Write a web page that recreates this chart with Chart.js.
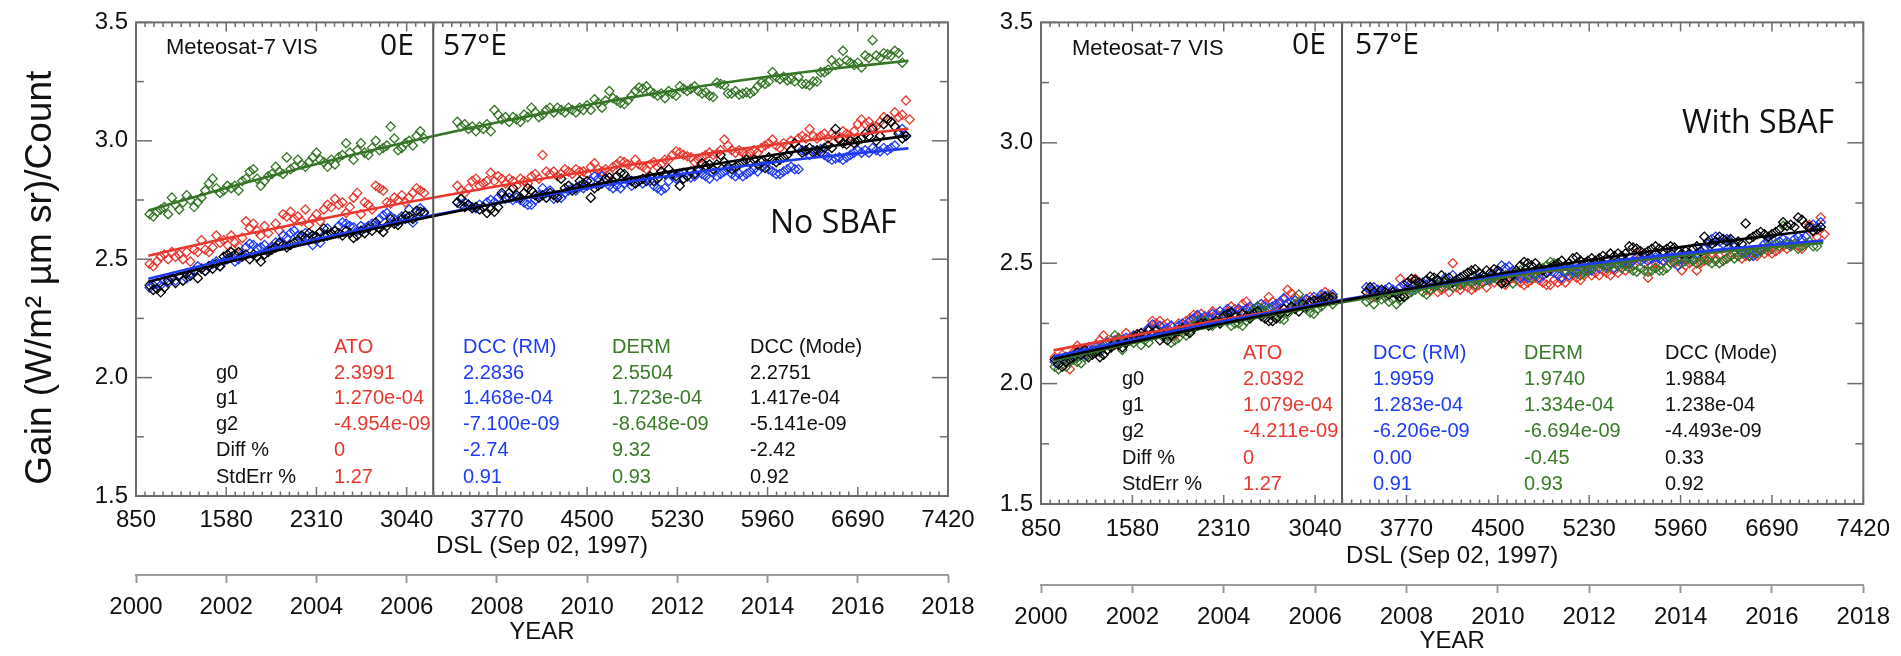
<!DOCTYPE html>
<html><head><meta charset="utf-8">
<script src="https://cdn.jsdelivr.net/npm/chart.js@4.4.1/dist/chart.umd.min.js"></script>
<style>
html,body{margin:0;padding:0;background:#fff;width:1901px;height:656px;overflow:hidden;}
canvas{position:absolute;top:0;}
#c1{left:0;width:990px;height:656px;}
#c2{left:990px;width:911px;height:656px;}
</style></head><body>
<canvas id="c1" width="990" height="656"></canvas>
<canvas id="c2" width="911" height="656"></canvas>
<script>
// ---------------- DATA ----------------
// Days since launch (DSL, Sep 02 1997) of the monthly samples
const DSL = [
960,990,1020,1050,1080,1110,1140,1170,1200,1230,
1260,1290,1320,1350,1380,1410,1440,1470,1500,1530,
1560,1590,1620,1650,1680,1710,1740,1770,1800,1830,
1860,1890,1920,1950,1980,2010,2040,2070,2100,2130,
2160,2190,2220,2250,2280,2310,2340,2370,2400,2430,
2460,2490,2520,2550,2580,2610,2640,2670,2700,2730,
2760,2790,2820,2850,2880,2910,2940,2970,3000,3030,
3060,3090,3120,3150,3180,
3450,3480,3510,3540,3570,3600,3630,3660,3690,3720,
3750,3780,3810,3840,3870,3900,3930,3960,3990,4020,
4050,4080,4110,4140,4170,4200,4230,4260,4290,4320,
4350,4380,4410,4440,4470,4500,4530,4560,4590,4620,
4650,4680,4710,4740,4770,4800,4830,4860,4890,4920,
4950,4980,5010,5040,5070,5100,5130,5160,5190,5220,
5250,5280,5310,5340,5370,5400,5430,5460,5490,5520,
5550,5580,5610,5640,5670,5700,5730,5760,5790,5820,
5850,5880,5910,5940,5970,6000,6030,6060,6090,6120,
6150,6180,6210,6240,6270,6300,6330,6360,6390,6420,
6450,6480,6510,6540,6570,6600,6630,6660,6690,6720,
6750,6780,6810,6840,6870,6900,6930,6960,6990,7020,
7050,7080,7110];

// ---- Left panel (No SBAF) ----
const L_ATO = [
2.48,2.47,2.49,2.51,2.52,2.50,2.53,2.51,2.52,2.50,
2.53,2.49,2.54,2.53,2.58,2.54,2.53,2.55,2.60,2.57,
2.58,2.56,2.60,2.57,2.555,2.59,2.66,2.63,2.65,2.62,
2.60,2.64,2.61,2.555,2.65,2.62,2.69,2.68,2.70,2.67,
2.68,2.66,2.71,2.645,2.67,2.69,2.66,2.71,2.73,2.72,
2.755,2.73,2.74,2.695,2.72,2.76,2.78,2.69,2.74,2.73,
2.71,2.81,2.80,2.79,2.74,2.735,2.76,2.75,2.77,2.74,
2.76,2.78,2.80,2.79,2.78,
2.81,2.79,2.78,2.80,2.83,2.84,2.81,2.82,2.83,2.865,
2.83,2.85,2.84,2.82,2.84,2.83,2.81,2.84,2.83,2.82,
2.85,2.86,2.84,2.94,2.87,2.86,2.87,2.85,2.86,2.88,
2.87,2.86,2.88,2.87,2.87,2.86,2.89,2.905,2.88,2.87,
2.88,2.86,2.89,2.90,2.915,2.91,2.90,2.895,2.92,2.90,
2.89,2.88,2.90,2.91,2.89,2.90,2.92,2.92,2.94,2.955,
2.95,2.94,2.935,2.93,2.91,2.92,2.93,2.94,2.95,2.94,
2.945,2.96,3.005,2.98,2.96,2.95,2.96,2.95,2.94,2.95,
2.96,2.95,2.97,2.98,2.99,3.005,2.98,2.97,2.99,2.98,
3.00,2.99,3.01,3.02,3.01,3.05,3.02,3.01,3.02,3.03,
3.01,3.03,3.02,3.01,3.04,3.03,3.02,3.04,3.07,3.09,
3.07,3.08,3.06,3.06,3.08,3.10,3.09,3.08,3.12,3.10,
3.11,3.17,3.09];
const L_RM = [
2.38,2.39,2.40,2.39,2.41,2.40,2.42,2.41,2.43,2.41,
2.42,2.44,2.45,2.47,2.46,2.45,2.47,2.48,2.49,2.47,
2.49,2.50,2.51,2.49,2.50,2.52,2.55,2.565,2.56,2.545,
2.55,2.56,2.54,2.55,2.57,2.565,2.60,2.59,2.61,2.62,
2.60,2.59,2.61,2.59,2.56,2.58,2.57,2.60,2.63,2.61,
2.62,2.64,2.655,2.65,2.64,2.635,2.62,2.64,2.63,2.64,
2.65,2.64,2.67,2.685,2.695,2.68,2.67,2.66,2.68,2.67,
2.71,2.655,2.70,2.715,2.70,
2.74,2.73,2.74,2.73,2.72,2.715,2.73,2.72,2.74,2.75,
2.74,2.76,2.77,2.755,2.76,2.75,2.76,2.75,2.74,2.73,
2.73,2.75,2.77,2.80,2.78,2.79,2.755,2.77,2.76,2.78,
2.79,2.80,2.79,2.81,2.80,2.81,2.83,2.85,2.84,2.85,
2.84,2.81,2.80,2.81,2.80,2.82,2.83,2.81,2.82,2.83,
2.82,2.84,2.83,2.81,2.80,2.79,2.80,2.83,2.85,2.84,
2.86,2.865,2.85,2.845,2.85,2.87,2.86,2.85,2.84,2.865,
2.85,2.86,2.87,2.88,2.86,2.85,2.86,2.85,2.86,2.87,
2.88,2.87,2.89,2.90,2.88,2.87,2.86,2.86,2.87,2.88,
2.89,2.88,2.88,2.96,2.955,2.94,2.96,2.95,2.965,2.94,
2.93,2.92,2.925,2.93,2.92,2.93,2.94,2.95,2.96,2.95,
2.96,2.95,2.97,2.96,2.955,2.97,2.96,2.97,2.98,3.04,
3.05,3.02,null];
const L_DERM = [
2.69,2.68,2.70,2.71,2.72,2.69,2.76,2.73,2.71,2.74,
2.77,2.75,2.72,2.74,2.76,2.79,2.82,2.84,2.80,2.78,
2.79,2.81,2.80,2.81,2.79,2.83,2.84,2.87,2.88,2.84,
2.81,2.83,2.85,2.86,2.89,2.87,2.86,2.93,2.88,2.89,
2.92,2.90,2.89,2.91,2.93,2.95,2.92,2.91,2.89,2.92,
2.90,2.93,2.94,2.99,2.95,2.92,2.96,2.99,2.95,2.94,
2.97,3.00,2.96,2.97,2.98,3.06,3.01,2.96,2.97,2.99,
3.00,2.98,3.02,3.04,3.01,
3.08,3.06,3.07,3.05,3.06,3.04,3.06,3.05,3.07,3.04,
3.13,3.11,3.09,3.10,3.08,3.10,3.09,3.08,3.11,3.10,
3.14,3.12,3.10,3.11,3.13,3.14,3.12,3.14,3.13,3.12,
3.14,3.13,3.12,3.14,3.13,3.15,3.13,3.175,3.16,3.14,
3.17,3.21,3.18,3.17,3.16,3.155,3.17,3.19,3.21,3.225,
3.22,3.23,3.21,3.20,3.19,3.20,3.18,3.21,3.20,3.19,
3.23,3.22,3.21,3.22,3.23,3.21,3.20,3.205,3.19,3.185,
3.245,3.24,3.235,3.20,3.20,3.21,3.195,3.20,3.205,3.20,
3.21,3.23,3.245,3.24,3.25,3.29,3.27,3.26,3.27,3.255,
3.26,3.25,3.27,3.24,3.24,3.235,3.25,3.25,3.29,3.29,
3.30,3.34,3.32,3.33,3.38,3.34,3.33,3.32,3.33,3.31,
3.36,3.35,3.425,3.36,3.35,3.37,3.365,3.36,3.38,3.37,
3.33,null,null];
const L_MODE = [
2.39,2.37,2.375,2.36,2.38,2.41,2.42,2.40,2.43,2.41,
2.44,2.43,2.45,2.42,2.46,2.45,2.47,2.46,2.48,2.47,
2.51,2.52,2.53,2.52,2.53,2.51,2.52,2.50,2.52,2.51,
2.49,2.52,2.53,2.54,2.55,2.57,2.56,2.55,2.56,2.57,
2.58,2.60,2.59,2.61,2.60,2.595,2.615,2.63,2.60,2.61,
2.62,2.61,2.60,2.62,2.61,2.59,2.60,2.62,2.61,2.63,
2.62,2.655,2.63,2.615,2.64,2.67,2.65,2.645,2.67,2.685,
2.68,2.67,2.705,2.70,2.695,
2.74,2.755,2.72,2.73,2.715,2.72,2.71,2.72,2.695,2.71,
2.70,2.72,2.78,2.76,2.78,2.80,2.77,2.76,2.78,2.80,
2.79,2.77,2.76,2.77,2.76,2.78,2.77,2.76,2.84,2.80,
2.81,2.79,2.80,2.83,2.82,2.83,2.76,2.80,2.81,2.82,
2.84,2.845,2.83,2.85,2.865,2.86,2.84,2.83,2.82,2.83,
2.84,2.83,2.85,2.83,2.84,2.87,2.86,2.88,2.86,2.85,
2.81,2.84,2.85,2.87,2.86,2.88,2.905,2.895,2.90,2.88,
2.90,2.94,2.91,2.89,2.88,2.89,2.90,2.91,2.92,2.91,
2.92,2.90,2.91,2.885,2.93,2.92,2.91,2.92,2.93,2.94,
2.96,2.99,2.97,2.95,2.96,2.97,2.95,2.96,2.95,2.97,
2.98,2.97,3.05,3.005,2.99,2.985,3.00,2.99,3.00,3.01,
3.03,3.02,3.05,3.00,3.02,3.07,3.09,3.08,3.06,3.03,
3.01,3.02,null];

// ---- Right panel (With SBAF) ----
const R_ATO = [
2.11,2.10,2.12,2.11,2.06,2.13,2.157,2.14,2.13,2.15,
2.14,2.16,2.18,2.20,2.17,2.18,2.16,2.19,2.18,2.21,
2.19,2.20,2.205,2.19,2.21,2.23,2.26,2.25,2.26,2.24,
2.25,2.24,2.20,2.25,2.24,2.26,2.27,2.285,2.28,2.29,
2.27,2.28,2.30,2.29,2.28,2.29,2.30,2.32,2.31,2.30,
2.33,2.34,2.31,2.30,2.32,2.31,2.33,2.36,2.34,2.32,
2.33,2.35,2.39,2.375,2.36,2.33,2.34,2.35,2.36,2.34,
2.35,2.36,2.38,2.37,2.35,
2.38,2.37,2.36,2.37,2.38,2.36,2.37,2.39,2.38,2.435,
2.41,2.39,2.42,2.435,2.42,2.41,2.39,2.385,2.40,2.38,
2.39,2.40,2.38,2.50,2.40,2.39,2.41,2.40,2.39,2.40,
2.41,2.42,2.40,2.43,2.42,2.43,2.42,2.41,2.43,2.44,
2.43,2.42,2.41,2.42,2.43,2.44,2.43,2.42,2.41,2.41,
2.43,2.42,2.43,2.42,2.44,2.45,2.44,2.43,2.45,2.465,
2.45,2.46,2.45,2.47,2.46,2.45,2.47,2.46,2.48,2.47,
2.50,2.49,2.545,2.525,2.50,2.44,2.49,2.50,2.49,2.51,
2.52,2.52,2.50,2.51,2.47,2.49,2.50,2.51,2.47,2.50,
2.51,2.52,2.53,2.52,2.53,2.51,2.52,2.53,2.54,2.53,
2.52,2.53,2.53,2.54,2.53,2.55,2.54,2.55,2.54,2.55,
2.56,2.57,2.56,2.57,2.58,2.57,2.56,2.58,2.66,2.63,
2.61,2.69,2.62];
const R_RM = [
2.09,2.08,2.10,2.11,2.10,2.12,2.11,2.13,2.12,2.14,
2.13,2.15,2.14,2.16,2.17,2.16,2.18,2.17,2.18,2.19,
2.18,2.20,2.19,2.21,2.20,2.23,2.245,2.23,2.24,2.22,
2.23,2.24,2.22,2.24,2.25,2.24,2.26,2.27,2.285,2.27,
2.28,2.27,2.29,2.28,2.30,2.29,2.31,2.30,2.29,2.31,
2.30,2.31,2.32,2.31,2.32,2.33,2.32,2.31,2.32,2.33,
2.34,2.355,2.335,2.34,2.345,2.33,2.34,2.35,2.34,2.36,
2.35,2.37,2.365,2.36,2.37,
2.40,2.39,2.40,2.39,2.38,2.39,2.40,2.39,2.38,2.40,
2.41,2.40,2.39,2.41,2.40,2.42,2.41,2.42,2.41,2.43,
2.42,2.44,2.41,2.45,2.43,2.44,2.42,2.43,2.44,2.43,
2.44,2.45,2.43,2.44,2.45,2.46,2.49,2.48,2.486,2.47,
2.45,2.44,2.45,2.44,2.46,2.45,2.44,2.45,2.46,2.47,
2.46,2.45,2.44,2.46,2.45,2.47,2.46,2.48,2.47,2.48,
2.47,2.49,2.48,2.50,2.49,2.50,2.48,2.49,2.50,2.51,
2.50,2.51,2.525,2.51,2.52,2.51,2.52,2.525,2.52,2.51,
2.52,2.53,2.51,2.49,2.52,2.51,2.53,2.52,2.54,2.55,
2.56,2.58,2.60,2.61,2.59,2.58,2.60,2.59,2.57,2.56,
2.55,2.54,2.53,2.53,2.55,2.56,2.58,2.59,2.60,2.58,
2.59,2.60,2.59,2.58,2.60,2.61,2.60,2.61,2.65,2.66,
2.65,2.67,null];
const R_DERM = [
2.07,2.06,2.08,2.07,2.09,2.10,2.09,2.085,2.11,2.12,
2.13,2.14,2.13,2.15,2.14,2.16,2.20,2.185,2.14,2.17,
2.18,2.17,2.19,2.16,2.18,2.17,2.20,2.22,2.21,2.19,
2.20,2.17,2.18,2.19,2.21,2.20,2.22,2.24,2.26,2.25,
2.26,2.25,2.24,2.255,2.25,2.27,2.26,2.24,2.25,2.25,
2.24,2.26,2.28,2.30,2.32,2.31,2.30,2.31,2.29,2.28,
2.27,2.265,2.29,2.31,2.33,2.37,2.32,2.31,2.295,2.29,
2.31,2.32,2.34,2.36,2.33,
2.34,2.35,2.33,2.36,2.35,2.36,2.34,2.35,2.33,2.345,
2.36,2.37,2.38,2.39,2.40,2.38,2.37,2.39,2.40,2.41,
2.40,2.42,2.41,2.40,2.42,2.41,2.42,2.43,2.42,2.41,
2.43,2.42,2.44,2.43,2.44,2.43,2.44,2.45,2.44,2.416,
2.46,2.47,2.46,2.45,2.44,2.46,2.47,2.48,2.49,2.505,
2.50,2.49,2.48,2.47,2.48,2.46,2.47,2.45,2.46,2.47,
2.48,2.49,2.50,2.49,2.48,2.49,2.50,2.49,2.48,2.49,
2.48,2.47,2.465,2.48,2.47,2.465,2.47,2.48,2.47,2.47,
2.48,2.50,2.51,2.52,2.50,2.51,2.52,2.51,2.50,2.51,
2.52,2.51,2.50,2.51,2.50,2.51,2.52,2.53,2.52,2.53,
2.54,2.55,2.53,2.55,2.54,2.55,2.56,2.57,2.56,2.58,
2.57,2.655,2.58,2.57,2.58,2.56,2.57,2.58,2.59,2.57,
2.57,null,null];
const R_MODE = [
2.10,2.08,2.07,2.09,2.10,2.11,2.13,2.12,2.14,2.11,
2.12,2.13,2.11,2.12,2.14,2.15,2.17,2.16,2.15,2.17,
2.18,2.19,2.205,2.21,2.20,2.22,2.21,2.22,2.18,2.20,
2.18,2.20,2.21,2.22,2.23,2.22,2.21,2.23,2.24,2.25,
2.25,2.24,2.25,2.26,2.25,2.28,2.29,2.295,2.28,2.27,
2.29,2.28,2.27,2.29,2.30,2.28,2.27,2.26,2.26,2.27,
2.29,2.31,2.30,2.32,2.31,2.30,2.33,2.32,2.34,2.345,
2.34,2.35,2.36,2.355,2.36,
2.38,2.40,2.38,2.37,2.39,2.38,2.37,2.38,2.37,2.36,
2.36,2.42,2.435,2.43,2.42,2.41,2.43,2.445,2.44,2.43,
2.45,2.43,2.44,2.42,2.43,2.44,2.45,2.46,2.47,2.475,
2.46,2.45,2.47,2.46,2.475,2.47,2.416,2.42,2.44,2.45,
2.47,2.49,2.505,2.50,2.49,2.50,2.48,2.47,2.46,2.48,
2.49,2.50,2.51,2.49,2.50,2.52,2.525,2.51,2.50,2.51,
2.52,2.51,2.52,2.53,2.52,2.54,2.53,2.54,2.53,2.54,
2.57,2.565,2.56,2.55,2.54,2.55,2.56,2.57,2.56,2.55,
2.56,2.57,2.565,2.55,2.54,2.55,2.54,2.56,2.57,2.55,
2.61,2.59,2.58,2.59,2.61,2.60,2.59,2.60,2.58,2.59,
2.58,2.665,2.60,2.61,2.62,2.63,2.62,2.61,2.62,2.63,
2.64,2.67,2.655,2.66,2.65,2.69,2.68,2.66,2.65,2.635,
2.64,2.65,null];

// Quadratic fit curves, read at these DSL knots
const FIT_DSL = [950,1500,2000,2500,3000,3500,4000,4500,5000,5500,6000,6500,7100];
const L_ATO_FIT  = [2.515,2.579,2.633,2.686,2.736,2.783,2.828,2.870,2.910,2.948,2.983,3.015,3.051];
const L_RM_FIT   = [2.417,2.488,2.549,2.606,2.660,2.710,2.757,2.800,2.840,2.876,2.909,2.938,2.968];
const L_DERM_FIT = [2.706,2.789,2.860,2.927,2.990,3.048,3.101,3.151,3.196,3.237,3.273,3.305,3.338];
const L_MODE_FIT = [2.405,2.476,2.538,2.597,2.654,2.708,2.760,2.809,2.855,2.899,2.940,2.979,3.022];
const R_ATO_FIT  = [2.138,2.192,2.238,2.283,2.325,2.365,2.403,2.440,2.473,2.505,2.535,2.563,2.593];
const R_RM_FIT   = [2.112,2.174,2.228,2.278,2.325,2.369,2.410,2.448,2.482,2.514,2.542,2.568,2.594];
const R_DERM_FIT = [2.095,2.159,2.214,2.266,2.314,2.359,2.401,2.439,2.474,2.505,2.533,2.558,2.584];
const R_MODE_FIT = [2.102,2.164,2.218,2.270,2.319,2.367,2.412,2.455,2.495,2.533,2.570,2.603,2.641];

// Axis ticks
const DSL_TICKS  = [850,1580,2310,3040,3770,4500,5230,5960,6690,7420];
const YEAR_TICKS = [2000,2002,2004,2006,2008,2010,2012,2014,2016,2018];
const Y_TICKS    = [1.5,2.0,2.5,3.0,3.5];
const SWITCH_DSL = 3255;   // 0E -> 57°E relocation

// Tables
const ROW_LABELS = ['g0','g1','g2','Diff %','StdErr %'];
const HEADERS    = ['ATO','DCC (RM)','DERM','DCC (Mode)'];
const L_TAB_ATO  = ['2.3991','1.270e-04','-4.954e-09','0','1.27'];
const L_TAB_RM   = ['2.2836','1.468e-04','-7.100e-09','-2.74','0.91'];
const L_TAB_DERM = ['2.5504','1.723e-04','-8.648e-09','9.32','0.93'];
const L_TAB_MODE = ['2.2751','1.417e-04','-5.141e-09','-2.42','0.92'];
const R_TAB_ATO  = ['2.0392','1.079e-04','-4.211e-09','0','1.27'];
const R_TAB_RM   = ['1.9959','1.283e-04','-6.206e-09','0.00','0.91'];
const R_TAB_DERM = ['1.9740','1.334e-04','-6.694e-09','-0.45','0.93'];
const R_TAB_MODE = ['1.9884','1.238e-04','-4.493e-09','0.33','0.92'];

// ---------------- STYLE ----------------
const COL = {red:'#e8382e', blue:'#1f3cf2', green:'#367427', black:'#000000'};
const TXT = {red:'#e8382e', blue:'#1d3cf5', green:'#3a7a2a', black:'#111111'};
const FONT = "'Liberation Sans', Arial, Helvetica, sans-serif";
const CAL = "'Open Sans', sans-serif";
const FRAME = '#6e6e6e';
const YEARCOL = '#9b9b9b';

function pts(arr){ return DSL.map((x,i)=>({x:x,y:arr[i]})).filter(p=>p.y!==null && p.y!==undefined); }
function fit(arr){ return FIT_DSL.map((x,i)=>({x:x,y:arr[i]})); }

function makePanel(id, P){
  const ds = [];
  [[P.fits[3],COL.black,0],[P.fits[1],COL.blue,1],[P.fits[2],COL.green,2],[P.fits[0],COL.red,3]].forEach(([a,c,o])=>{
    ds.push({data:fit(a), showLine:true, borderColor:c, borderWidth:2.6, pointRadius:0, pointHoverRadius:0, fill:false, tension:0.3, order:o});
  });
  [[P.pts[3],COL.black,4],[P.pts[2],COL.green,5],[P.pts[1],COL.blue,6],[P.pts[0],COL.red,7]].forEach(([a,c,o])=>{
    ds.push({data:pts(a), showLine:false, pointStyle:'rectRot', pointRadius:4.6, pointHoverRadius:4.6,
      pointBorderColor:c, borderColor:c, pointBackgroundColor:'rgba(0,0,0,0)', backgroundColor:'rgba(0,0,0,0)',
      pointBorderWidth:1.3, order:o});
  });

  const deco = {
    id:'deco'+id,
    afterDraw(chart){
      const {ctx, chartArea:a, scales} = chart;
      const xs = scales.x, ys = scales.y;
      ctx.save();
      // relocation line
      const sx = xs.getPixelForValue(SWITCH_DSL);
      ctx.strokeStyle = '#555'; ctx.lineWidth = 2;
      ctx.beginPath(); ctx.moveTo(sx, a.top); ctx.lineTo(sx, a.bottom); ctx.stroke();
      // frame
      ctx.strokeStyle = FRAME; ctx.lineWidth = 2;
      ctx.strokeRect(a.left, a.top, a.right-a.left, a.bottom-a.top);
      // inward ticks
      ctx.lineWidth = 1.5;
      const seg=(x1,y1,x2,y2)=>{ctx.beginPath();ctx.moveTo(x1,y1);ctx.lineTo(x2,y2);ctx.stroke();};
      for(let k=0;k<=90;k++){
        const px = xs.getPixelForValue(850 + k*73);
        const L = (k%10===0) ? 9 : 4.5;
        seg(px,a.bottom,px,a.bottom-L); seg(px,a.top,px,a.top+L);
      }
      for(let k=0;k<=8;k++){
        const py = ys.getPixelForValue(1.5 + k*0.25);
        const L = (k%2===0) ? 16 : 8;
        seg(a.left,py,a.left+L,py); seg(a.right,py,a.right-L,py);
      }
      // annotations
      ctx.textAlign='left'; ctx.textBaseline='alphabetic';
      ctx.fillStyle='#111';
      ctx.font = '22px '+FONT;
      ctx.fillText('Meteosat-7 VIS', P.met[0], P.met[1]);
      ctx.font = '30px '+CAL;
      ctx.fillText('0E', P.oe[0], P.oe[1]);
      ctx.fillText('57°E', P.fe[0], P.fe[1]);
      ctx.font = '32px '+CAL;
      ctx.fillText(P.label, P.lab[0], P.lab[1]);
      // table
      ctx.font = '20px '+FONT;
      const cols = [TXT.red, TXT.blue, TXT.green, TXT.black];
      ROW_LABELS.forEach((t,r)=>{ ctx.fillStyle='#111'; ctx.fillText(t, P.tabLabelX, P.rowY[r]); });
      HEADERS.forEach((h,c)=>{ ctx.fillStyle=cols[c]; ctx.fillText(h, P.colX[c], P.headY); });
      P.tab.forEach((col,c)=>{ col.forEach((t,r)=>{ ctx.fillStyle=cols[c]; ctx.fillText(t, P.colX[c], P.rowY[r]); }); });
      ctx.restore();
    }
  };

  const tickFont = {family:FONT, size:24};
  new Chart(document.getElementById(id), {
    type:'scatter',
    data:{datasets:ds},
    plugins:[deco],
    options:{
      responsive:false, animation:false, devicePixelRatio:1,
      layout:{padding:{top:P.padTop, right:P.padRight, bottom:0, left:0}},
      plugins:{legend:{display:false}, tooltip:{enabled:false}},
      events:[],
      scales:{
        x:{type:'linear', position:'bottom', min:850, max:7420, weight:0,
          afterBuildTicks:s=>{ s.ticks = DSL_TICKS.map(v=>({value:v})); },
          afterFit:s=>{ s.height = P.xH; },
          grid:{display:false, drawTicks:false}, border:{display:false},
          ticks:{autoSkip:false, maxRotation:0, minRotation:0, padding:P.xPad, color:'#111', font:tickFont, callback:v=>String(v)},
          title:{display:true, text:'DSL (Sep 02, 1997)', color:'#111', font:tickFont, padding:{top:0,bottom:P.xTitlePad}}},
        x2:{type:'linear', position:'bottom', min:2000, max:2018, weight:1,
          afterBuildTicks:s=>{ s.ticks = YEAR_TICKS.map(v=>({value:v})); },
          afterFit:s=>{ s.height = P.x2H; },
          grid:{display:true, drawOnChartArea:false, drawTicks:true, tickLength:8, tickColor:YEARCOL, tickWidth:2, color:YEARCOL},
          border:{display:true, color:YEARCOL, width:2},
          ticks:{autoSkip:false, maxRotation:0, minRotation:0, padding:P.x2Pad, color:'#111', font:tickFont, callback:v=>String(v)},
          title:{display:true, text:'YEAR', color:'#111', font:tickFont, padding:{top:0,bottom:P.x2TitlePad}}},
        y:{type:'linear', position:'left', min:1.5, max:3.5,
          afterBuildTicks:s=>{ s.ticks = Y_TICKS.map(v=>({value:v})); },
          afterFit:s=>{ s.width = P.yW; },
          grid:{display:false, drawTicks:false}, border:{display:false},
          ticks:{padding:8, color:'#111', font:tickFont, callback:v=>Number(v).toFixed(1)},
          title: P.yTitle ? {display:true, text:'Gain (W/m² µm sr)/Count\u2002\u2002', color:'#111', font:{family:FONT,size:37}, padding:{top:19,bottom:0}} : {display:false}}
      }
    }
  });
}

makePanel('c1', {
  pts:[L_ATO,L_RM,L_DERM,L_MODE], fits:[L_ATO_FIT,L_RM_FIT,L_DERM_FIT,L_MODE_FIT],
  tab:[L_TAB_ATO,L_TAB_RM,L_TAB_DERM,L_TAB_MODE],
  yW:136, xH:79, x2H:81, xPad:10, xTitlePad:14, x2Pad:10, x2TitlePad:9, padTop:14, padRight:42, yTitle:true,
  met:[166,53.5], oe:[380,55], fe:[443,55], label:'No SBAF', lab:[770,233],
  tabLabelX:216, colX:[334,463,612,750], headY:352.5, rowY:[378.7,404.3,430.3,456.3,482.5]
});
makePanel('c2', {
  pts:[R_ATO,R_RM,R_DERM,R_MODE], fits:[R_ATO_FIT,R_RM_FIT,R_DERM_FIT,R_MODE_FIT],
  tab:[R_TAB_ATO,R_TAB_RM,R_TAB_DERM,R_TAB_MODE],
  yW:51, xH:81, x2H:71, xPad:11, xTitlePad:14, x2Pad:10, x2TitlePad:0, padTop:15, padRight:35, yTitle:false,
  met:[82,55], oe:[302,53.5], fe:[365,53.5], label:'With SBAF', lab:[692,133.3],
  tabLabelX:132, colX:[253,383,534,675], headY:358.5, rowY:[384.8,410.8,437.3,464,490.3]
});
</script>
</body></html>
